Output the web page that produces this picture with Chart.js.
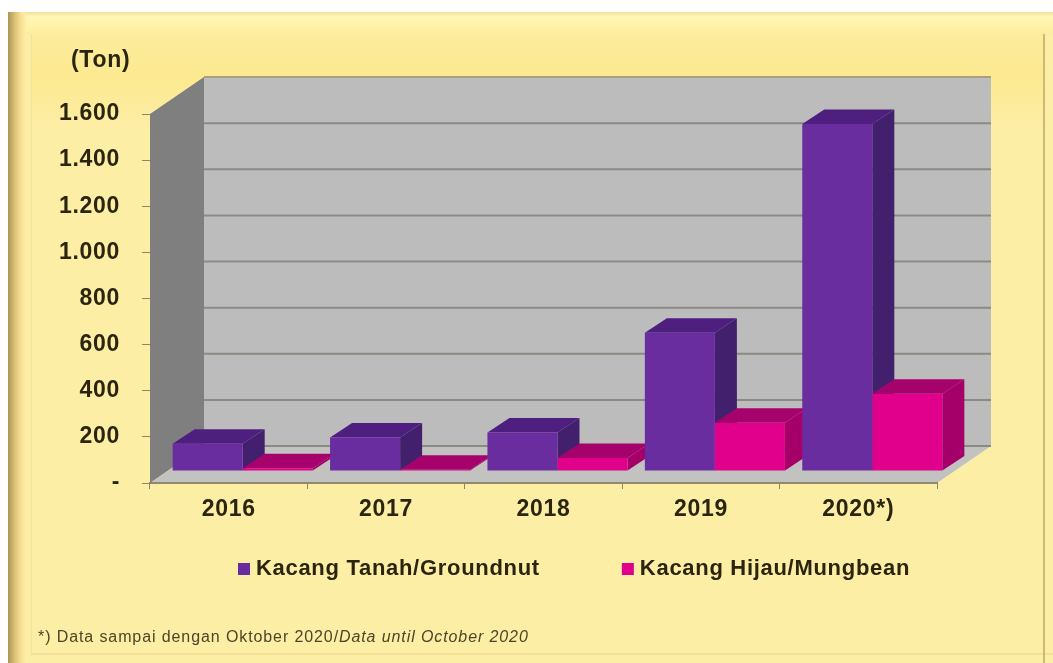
<!DOCTYPE html>
<html>
<head>
<meta charset="utf-8">
<title>Kacang Tanah / Kacang Hijau</title>
<script src="https://cdn.jsdelivr.net/npm/chart.js@4"></script>
<style>
  html, body { margin: 0; padding: 0; background: #fff; }
  canvas { display: block; }
</style>
</head>
<body>
<canvas id="chart" width="1053" height="663"></canvas>
<script>
const years = ["2016", "2017", "2018", "2019", "2020*)"];
const groundnut = [118, 145, 167, 600, 1505];
const mungbean = [12, 5, 56, 209, 335];
const yTicks = [0, 200, 400, 600, 800, 1000, 1200, 1400, 1600];
const unitLabel = "(Ton)";
const noteNormal = "*) Data sampai dengan Oktober 2020/";
const noteItalic = "Data until October 2020";

const textColor = "#2b2510";
const tickColor = "#8d8763";
const spacing = "0.7px";

function formatTick(v) {
  if (v === 0) return "-";
  return v.toLocaleString("de-DE");
}

function poly(ctx, pts, fill) {
  ctx.beginPath();
  pts.forEach((p, i) => (i ? ctx.lineTo(p[0], p[1]) : ctx.moveTo(p[0], p[1])));
  ctx.closePath();
  ctx.fillStyle = fill;
  ctx.fill();
}

// yellow frame behind everything
function drawFrame(ctx) {
  ctx.fillStyle = "#fff";
  ctx.fillRect(0, 0, 1053, 663);
  ctx.fillStyle = "#fdeea6";
  ctx.fillRect(8, 12, 1045, 651);

  let g = ctx.createLinearGradient(0, 12, 0, 34);
  g.addColorStop(0, "#f0e0a0");
  g.addColorStop(0.2, "#fff6b4");
  g.addColorStop(0.6, "#fff3ac");
  g.addColorStop(1, "#fdec9c");
  ctx.fillStyle = g;
  ctx.fillRect(8, 12, 1045, 22);

  g = ctx.createLinearGradient(0, 34, 0, 130);
  g.addColorStop(0, "#fcec9c");
  g.addColorStop(0.45, "#fce990");
  g.addColorStop(1, "#fdeea6");
  ctx.fillStyle = g;
  ctx.fillRect(32, 34, 1011, 96);

  g = ctx.createLinearGradient(8, 0, 26, 0);
  g.addColorStop(0, "#a8935a");
  g.addColorStop(0.35, "#d8bd72");
  g.addColorStop(0.7, "#f6df94");
  g.addColorStop(1, "#fdeea6");
  ctx.fillStyle = g;
  ctx.fillRect(8, 12, 18, 651);

  ctx.fillStyle = "#f3e09a";
  ctx.fillRect(31, 34, 1, 620);
  ctx.fillRect(31, 653, 1022, 2);
  ctx.fillStyle = "#cdb878";
  ctx.fillRect(1043, 34, 2, 629);
}

const depth = { dx: 54, dy: -37 };     // back wall offset from the axis plane
const barShift = { dx: 14, dy: -12 };  // bars sit this far behind the axis plane
const barDepth = { dx: 22, dy: -14.5 };
const shades = [
  { side: "#42206e", top: "#4e1f7e" },
  { side: "#a5006a", top: "#a6026c" }
];

const wallPlugin = {
  id: "wall3d",
  beforeUpdate(chart) {
    chart.ctx.letterSpacing = spacing;
  },
  afterLayout(chart) {
    // legend sits under the chart, centred on the page and not on the plot
    const lg = chart.legend;
    const w = lg.right - lg.left;
    lg.left = 108;
    lg.right = lg.left + w;
    lg.top = 471;
  },
  beforeDraw(chart) {
    const ctx = chart.ctx;
    const { left, right, bottom, top } = chart.chartArea;
    const yScale = chart.scales.y;
    ctx.save();
    drawFrame(ctx);

    poly(ctx, [[left + depth.dx, top + depth.dy], [right + depth.dx, top + depth.dy], [right + depth.dx, bottom + depth.dy], [left + depth.dx, bottom + depth.dy]], "#bcbcbc");
    poly(ctx, [[left, top], [left + depth.dx, top + depth.dy], [left + depth.dx, bottom + depth.dy], [left, bottom]], "#7f7f7f");
    poly(ctx, [[left, bottom], [left + depth.dx, bottom + depth.dy], [right + depth.dx, bottom + depth.dy], [right, bottom]], "#c2c2c0");

    ctx.lineWidth = 2;
    yTicks.forEach(v => {
      const y = yScale.getPixelForValue(v) + depth.dy;
      ctx.strokeStyle = v === 1600 ? "#a8a27c" : "#8b8b85";
      ctx.beginPath();
      ctx.moveTo(left + depth.dx, y);
      ctx.lineTo(right + depth.dx, y);
      ctx.stroke();
    });

    ctx.letterSpacing = spacing;
    ctx.fillStyle = textColor;
    ctx.font = "bold 23px 'Liberation Sans'";
    ctx.textAlign = "left";
    ctx.textBaseline = "middle";
    ctx.fillText(unitLabel, 71, 61);

    ctx.letterSpacing = "0.9px";
    ctx.fillStyle = "#4c4526";
    ctx.font = "16px 'Liberation Sans'";
    ctx.fillText(noteNormal, 38, 638);
    const w = ctx.measureText(noteNormal).width;
    ctx.font = "italic 16px 'Liberation Sans'";
    ctx.fillText(noteItalic, 38 + w, 638);
    ctx.restore();
    ctx.letterSpacing = spacing;
  },
  // side and top faces go first, groundnut under mungbean.
  // chart.js then draws the front faces, last dataset first
  beforeDatasetsDraw(chart) {
    const ctx = chart.ctx;
    ctx.save();
    ctx.translate(barShift.dx, barShift.dy);
    shades.forEach((shade, i) => {
      chart.getDatasetMeta(i).data.forEach(bar => {
        const l = bar.x - bar.width / 2;
        const r = bar.x + bar.width / 2;
        const d = barDepth;
        poly(ctx, [[r, bar.y], [r + d.dx, bar.y + d.dy], [r + d.dx, bar.base + d.dy], [r, bar.base]], shade.side);
        poly(ctx, [[l, bar.y], [l + d.dx, bar.y + d.dy], [r + d.dx, bar.y + d.dy], [r, bar.y]], shade.top);
      });
    });
    ctx.restore();
  },
  beforeDatasetDraw(chart) {
    chart.ctx.save();
    chart.ctx.translate(barShift.dx, barShift.dy);
  },
  afterDatasetDraw(chart) {
    chart.ctx.restore();
  }
};

new Chart(document.getElementById("chart"), {
  type: "bar",
  plugins: [wallPlugin],
  data: {
    labels: years,
    datasets: [
      { label: "Kacang Tanah/Groundnut", data: groundnut, backgroundColor: "#6a2da0", clip: false },
      { label: "Kacang Hijau/Mungbean", data: mungbean, backgroundColor: "#e0008c", clip: false }
    ]
  },
  options: {
    responsive: false,
    animation: false,
    layout: { padding: { top: 114, right: 116, left: 0, bottom: 1 } },
    categoryPercentage: 0.89,
    barPercentage: 1,
    plugins: {
      tooltip: { enabled: false },
      legend: {
        position: "bottom",
        labels: {
          usePointStyle: true,
          pointStyle: "rect",
          boxWidth: 2,
          boxHeight: 12,
          padding: 87,
          color: textColor,
          font: { family: "'Liberation Sans'", size: 22, weight: "bold" }
        }
      }
    },
    scales: {
      x: {
        offset: true,
        afterFit(scale) { scale.height = 60; },
        border: { color: "#8f8a68", width: 2 },
        grid: { drawOnChartArea: false, color: tickColor, tickLength: 6 },
        ticks: { padding: 7, color: textColor, maxRotation: 0, font: { family: "'Liberation Sans'", size: 23, weight: "bold" } }
      },
      y: {
        min: 0,
        max: 1600,
        afterFit(scale) { scale.width = 150; },
        afterBuildTicks(scale) { scale.ticks = yTicks.map(v => ({ value: v })); },
        border: { color: "#7f7f7f", width: 1 },
        grid: { drawOnChartArea: false, color: tickColor, tickLength: 8 },
        ticks: { padding: 22, color: textColor, callback: formatTick, font: { family: "'Liberation Sans'", size: 23, weight: "bold" } }
      }
    }
  }
});
</script>
</body>
</html>
